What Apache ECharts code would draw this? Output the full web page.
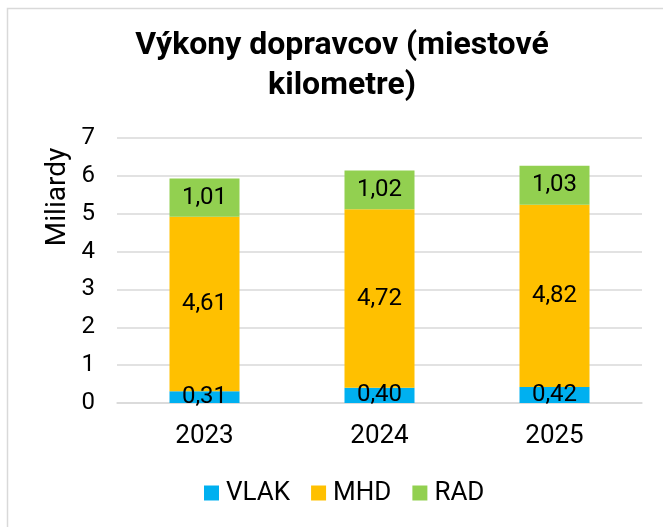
<!DOCTYPE html>
<html>
<head>
<meta charset="utf-8">
<script src="https://cdn.jsdelivr.net/npm/echarts@6/dist/echarts.min.js"></script>
<style>
  html, body { margin: 0; padding: 0; background: #fff; }
  #chart { width: 663px; height: 527px; }
</style>
</head>
<body>
<div id="chart"></div>
<script>
// dáta z grafu (miliardy miestových km)
const years = ['2023', '2024', '2025'];
const vlak = [0.31, 0.40, 0.42];
const mhd = [4.61, 4.72, 4.82];
const rad = [1.01, 1.02, 1.03];
const yTicks = [0, 1, 2, 3, 4, 5, 6, 7];

const font = 'Roboto, "Noto Sans", sans-serif';

// formát s desatinnou čiarkou
const fmt = (p) => p.value.toFixed(2).replace('.', ',');

function makeSeries(name, data, color) {
  return {
    name: name,
    type: 'bar',
    stack: 'total',
    barWidth: '40%',
    data: data,
    itemStyle: { color: color },
    label: {
      show: true,
      position: 'inside',
      formatter: fmt,
      fontFamily: font,
      fontSize: 24,
      color: '#000'
    }
  };
}

const chart = echarts.init(document.getElementById('chart'));
chart.setOption({
  animation: false,
  backgroundColor: '#fff',
  textStyle: { fontFamily: font },
  title: {
    text: 'Výkony dopravcov (miestové\nkilometre)',
    left: 337,
    textAlign: 'center',
    top: 21,
    textStyle: {
      fontFamily: font,
      fontSize: 32,
      fontWeight: 'bold',
      color: '#000',
      lineHeight: 40
    }
  },
  legend: {
    top: 480,
    left: 204,
    padding: 0,
    itemWidth: 15,
    itemHeight: 15,
    itemGap: 21,
    icon: 'rect',
    textStyle: { fontFamily: font, fontSize: 26, color: '#000', padding: [0, 0, 0, 2] },
    data: ['VLAK', 'MHD', 'RAD']
  },
  grid: { left: 117, right: 21, top: 138, bottom: 124 },
  xAxis: {
    type: 'category',
    data: years,
    axisTick: { show: false },
    axisLine: { lineStyle: { color: '#d9d9d9', width: 1.5 } },
    axisLabel: { fontFamily: font, fontSize: 26, color: '#000', margin: 20 }
  },
  yAxis: {
    type: 'value',
    min: yTicks[0],
    max: yTicks[yTicks.length - 1],
    interval: 1,
    axisLine: { show: false },
    axisTick: { show: false },
    axisLabel: { fontFamily: font, fontSize: 24, color: '#000', margin: 22 },
    splitLine: { lineStyle: { color: '#d9d9d9', width: 1.5 } }
  },
  graphic: [
    {
      type: 'rect',
      z: -1,
      shape: { x: 7.5, y: 8.5, width: 700, height: 600 },
      style: { fill: null, stroke: '#d9d9d9', lineWidth: 1.5 }
    },
    {
      // názov osi Y
      type: 'text',
      x: 58,
      y: 197,
      rotation: Math.PI / 2,
      style: {
        text: 'Miliardy',
        font: '28px Roboto, "Noto Sans", sans-serif',
        fill: '#000',
        align: 'center',
        verticalAlign: 'middle'
      }
    }
  ],
  series: [
    makeSeries('VLAK', vlak, '#00B0F0'),
    makeSeries('MHD', mhd, '#FFC000'),
    makeSeries('RAD', rad, '#92D050')
  ]
});
</script>
</body>
</html>
